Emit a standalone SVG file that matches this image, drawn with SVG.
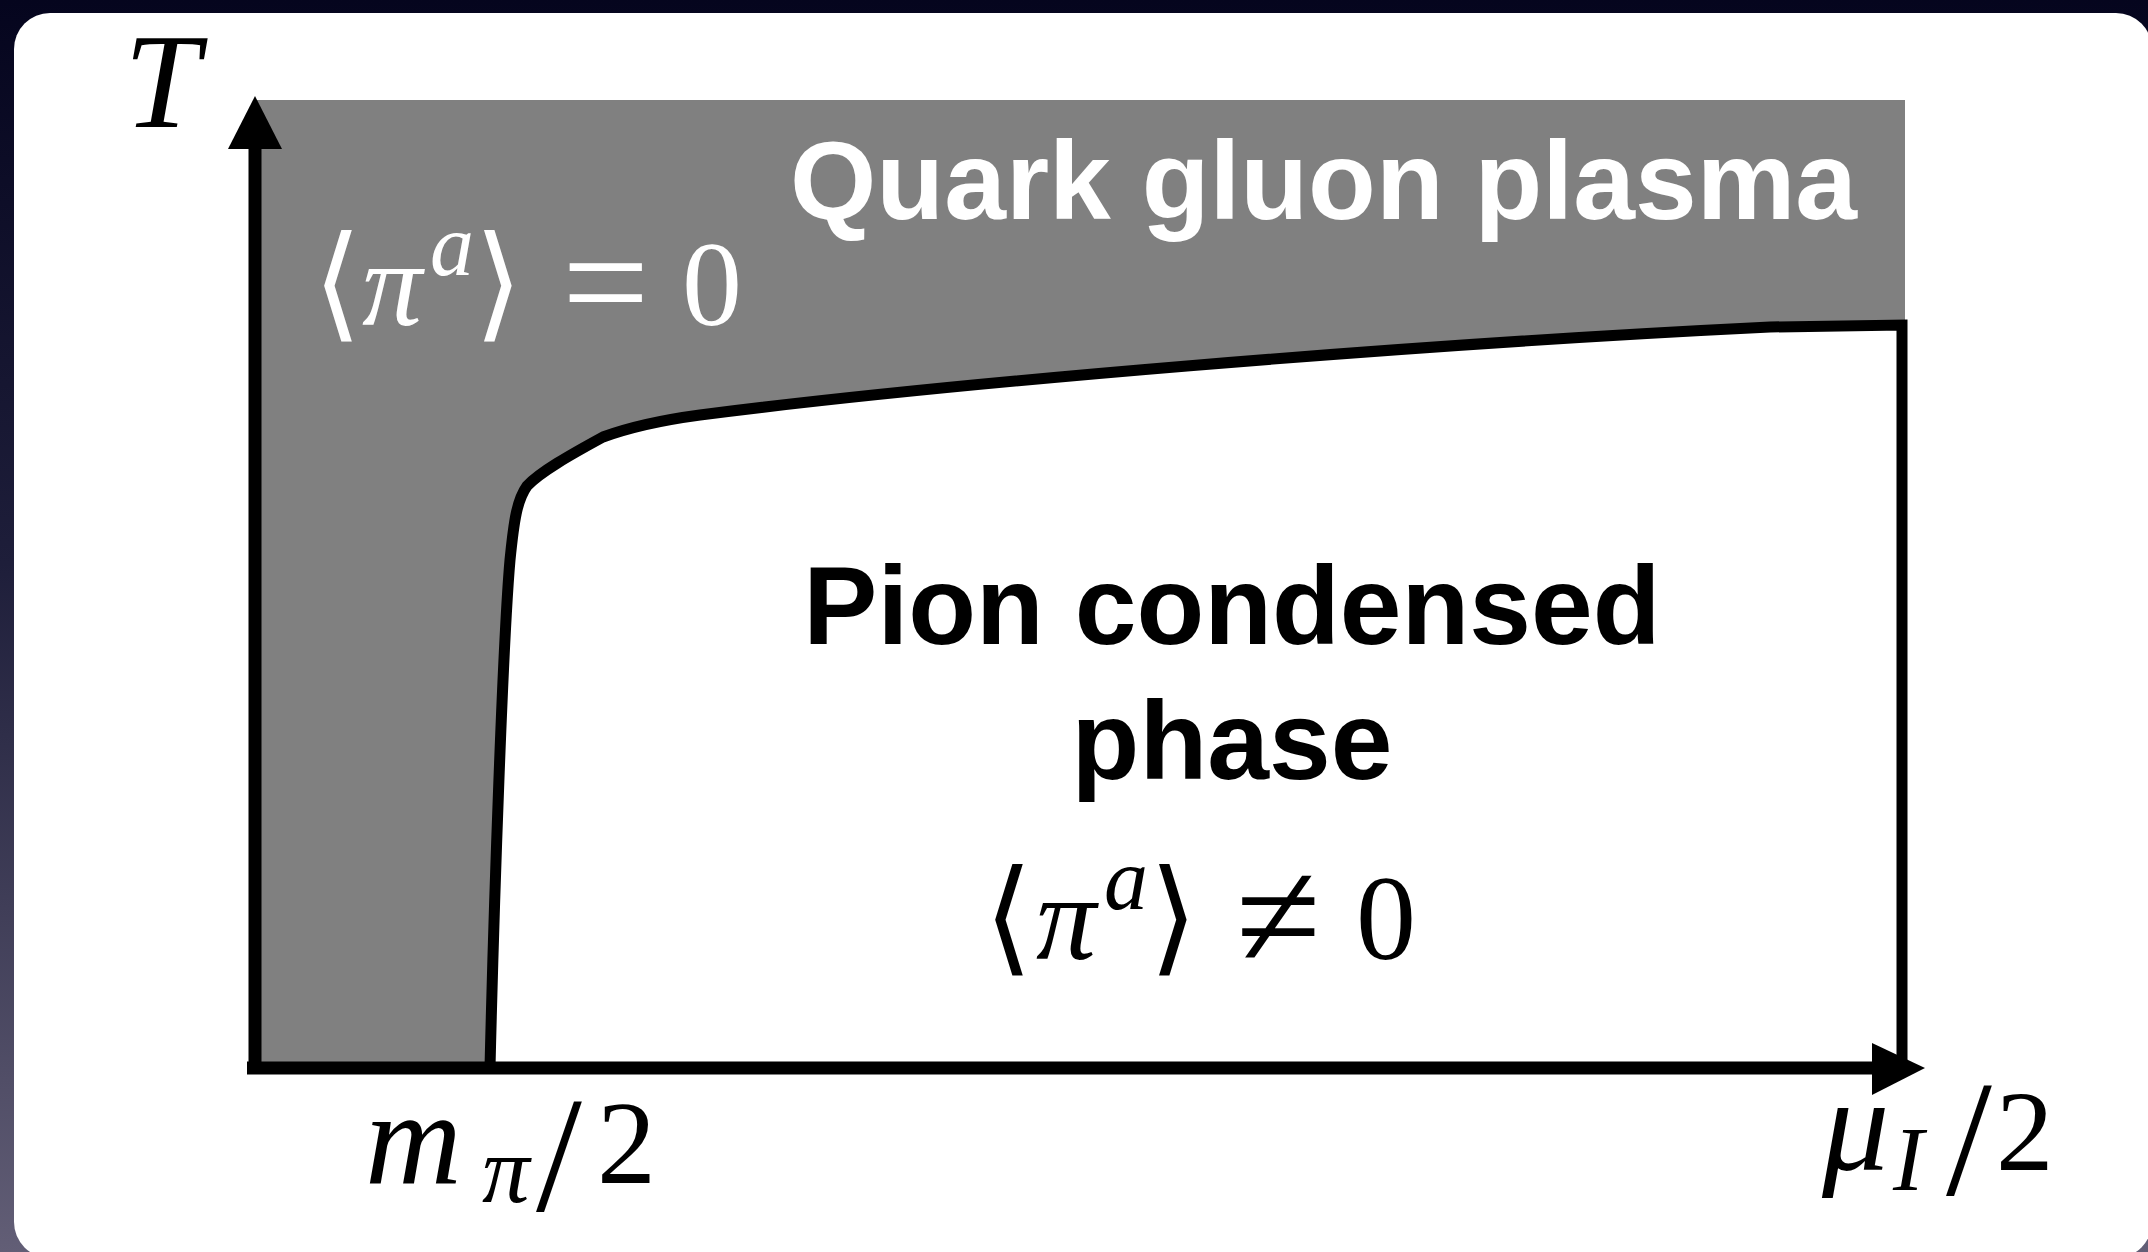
<svg xmlns="http://www.w3.org/2000/svg" width="2148" height="1252" viewBox="0 0 2148 1252">
  <defs>
    <linearGradient id="bg" x1="0" y1="0" x2="0" y2="1">
      <stop offset="0" stop-color="#05051e"/>
      <stop offset="0.45" stop-color="#1e1e3a"/>
      <stop offset="1" stop-color="#625e76"/>
    </linearGradient>
    <style>
      .math { font-family: 'Liberation Serif', 'DejaVu Serif', serif; }
      .it { font-style: italic; }
      .br { font-family: 'DejaVu Sans', 'Liberation Serif', sans-serif; }
      .label { font-family: 'Liberation Sans', Arial, sans-serif; font-weight: bold; font-size: 111px; }
      .axis { stroke: #000; stroke-width: 13; fill: none; }
      .curve { stroke: #000; stroke-width: 11; fill: none; stroke-linejoin: miter; }
    </style>
  </defs>

  <rect id="background" x="0" y="0" width="2148" height="1252" fill="url(#bg)"/>
  <rect id="card" x="14" y="13" width="2138" height="1245" rx="36" ry="36" fill="#ffffff"/>

  <g id="qgp-region">
    <rect x="255" y="100" width="1650" height="968" fill="#808080"/>
  </g>

  <g id="pion-region">
    <path d="M490,1068 C494,900 503,640 510,560 C514,520 517,500 527,486 C540,472 570,455 603,437 C625,429 655,421 700,415 C950,383 1400,345 1770,327 L1902,325 L1902,1068 Z" fill="#ffffff"/>
  </g>

  <g id="connectors">
    <path class="curve" d="M490,1068 C494,900 503,640 510,560 C514,520 517,500 527,486 C540,472 570,455 603,437 C625,429 655,421 700,415 C950,383 1400,345 1770,327 L1902,325 L1902,1062"/>
    <line class="axis" x1="255" y1="1068" x2="255" y2="145"/>
    <polygon points="255,96 228,149 282,149" fill="#000"/>
    <line class="axis" x1="247" y1="1068" x2="1876" y2="1068"/>
    <polygon points="1925,1068 1872,1043 1872,1095" fill="#000"/>
  </g>

  <g id="axis-labels">
    <text class="math it" x="124" y="127" font-size="136">T</text>
    <text class="math" font-size="120">
      <tspan class="it" x="365" y="1183" font-size="134">m</tspan>
      <tspan class="it" x="482" y="1202" font-size="95">π</tspan>
      <tspan x="536" y="1210" font-size="165">/</tspan>
      <tspan x="597" y="1183" font-size="118">2</tspan>
    </text>
    <text class="math" font-size="120">
      <tspan class="it" x="1822" y="1170" font-size="134">μ</tspan>
      <tspan class="it" x="1893" y="1190" font-size="92">I</tspan>
      <tspan x="1946" y="1194" font-size="165">/</tspan>
      <tspan x="1996" y="1170" font-size="115">2</tspan>
    </text>
  </g>

  <g id="qgp-labels" fill="#ffffff">
    <text class="label" x="790" y="219">Quark gluon plasma</text>
    <text class="br" x="313" y="325" font-size="125">⟨</text>
    <text class="math it" x="362" y="325" font-size="120">π</text>
    <text class="math it" x="430" y="275" font-size="88">a</text>
    <text class="br" x="474" y="325" font-size="125">⟩</text>
    <text class="math" x="562" y="334" font-size="155">=</text>
    <text class="math" x="682" y="325" font-size="120">0</text>
  </g>

  <g id="pion-labels" fill="#000000">
    <text class="label" x="1232" y="644" text-anchor="middle">Pion condensed</text>
    <text class="label" x="1232" y="779" text-anchor="middle">phase</text>
    <text class="br" x="984" y="959" font-size="125">⟨</text>
    <text class="math it" x="1036" y="959" font-size="120">π</text>
    <text class="math it" x="1104" y="909" font-size="88">a</text>
    <text class="br" x="1149" y="959" font-size="125">⟩</text>
    <text class="math" x="1236" y="968" font-size="155">≠</text>
    <text class="math" x="1356" y="959" font-size="120">0</text>
  </g>
</svg>
